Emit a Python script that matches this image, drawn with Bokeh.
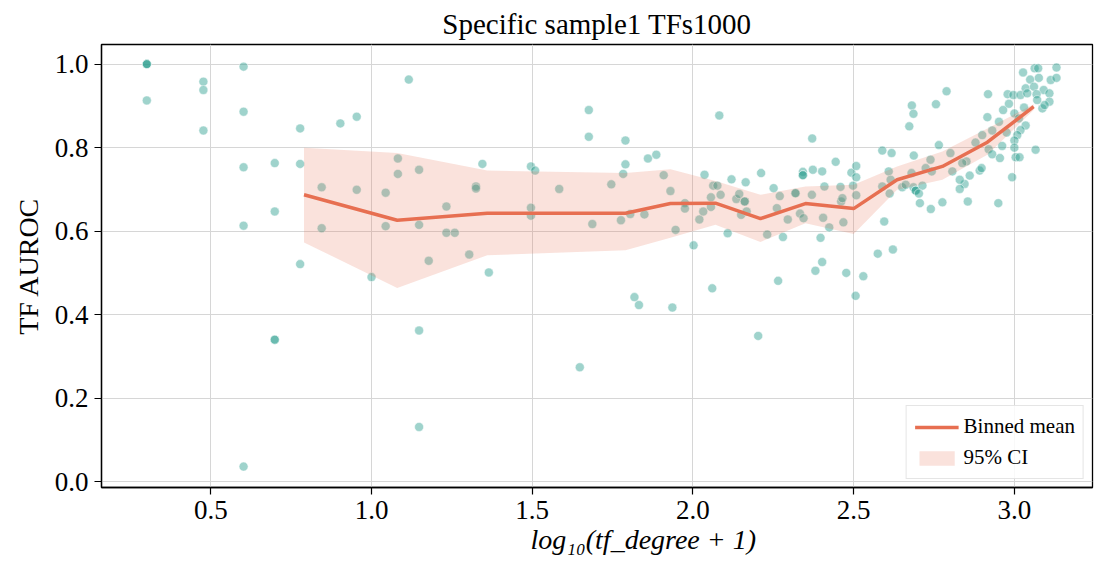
from bokeh.plotting import figure
from bokeh.models import Range1d, FixedTicker, PrintfTickFormatter, Legend, LegendItem, ColumnDataSource, Title
from bokeh.embed import file_html
from bokeh.resources import INLINE

# ---- data ----
pts_x = [0.301, 0.301, 0.301, 0.301, 0.477, 0.477, 0.477, 0.602, 0.602, 0.602, 0.602, 0.602,
         0.699, 0.699, 0.699, 0.699, 0.778, 0.778, 0.778, 0.845, 0.845, 0.903, 0.954, 0.954, 1.0,
         1.116, 1.082, 1.082, 1.044, 1.044, 1.148, 1.148, 1.178, 1.233, 1.233, 1.259, 1.304,
         1.325, 1.325, 1.345, 1.365, 1.496, 1.509, 1.496, 1.496, 1.584, 1.676, 1.676, 1.687,
         1.746, 1.776, 1.783, 1.790, 1.790, 1.805, 1.849, 1.860,
         1.148, 1.148, 1.648, 1.818, 1.832,
         1.886, 1.909, 1.930, 1.946, 1.975, 1.975, 2.002, 2.020, 2.032, 2.036, 2.056, 2.056,
         2.063, 2.076, 2.082, 2.086, 2.108, 2.120, 2.135, 2.144, 2.150, 2.161, 2.161, 2.164,
         2.167, 2.212, 2.231, 2.251, 2.261, 2.270, 2.280, 2.295, 2.319, 2.319, 2.333, 2.342,
         2.342, 2.342, 2.344, 2.370, 2.371, 2.373, 2.397, 2.402, 2.402, 2.405, 2.409, 2.424,
         2.444, 2.459, 2.461, 2.465, 2.468, 2.493, 2.498, 2.508, 2.508, 2.508,
         1.936, 2.060, 2.203, 2.265, 2.381, 2.477, 2.506, 2.530,
         3.131, 3.063, 3.074, 3.027, 3.049, 3.076, 3.113, 3.131, 3.035, 3.061, 3.091, 3.109,
         2.979, 2.997, 3.019, 3.040, 3.069, 2.918, 3.109, 3.087, 3.094, 3.071, 2.789, 2.681,
         2.686, 2.756, 2.673, 2.983, 2.965, 3.030, 3.000, 2.916, 2.952, 2.931, 3.014, 3.035,
         3.019, 3.009, 2.976, 2.900, 2.879, 3.000, 2.962, 3.000, 3.066, 2.920, 2.931, 2.955,
         3.004, 3.016, 2.993, 2.950, 2.855, 2.892, 2.898, 2.861, 2.845, 2.830, 2.830, 2.851,
         2.838, 2.807, 2.801, 2.765, 2.687, 2.618, 2.589, 2.739, 2.724, 2.743, 2.680, 2.609,
         2.615, 2.589, 2.612, 2.651, 2.662, 2.686, 2.693, 2.693, 2.714, 2.703, 2.706, 2.740,
         2.776, 2.595, 2.575, 2.622]
pts_y = [1.0, 1.0, 1.0, 0.913, 0.958, 0.938, 0.841, 0.994, 0.886, 0.753, 0.613, 0.036,
         0.763, 0.647, 0.340, 0.340, 0.846, 0.761, 0.521, 0.705, 0.607, 0.858, 0.874, 0.699, 0.490,
         0.963, 0.774, 0.737, 0.692, 0.612, 0.747, 0.615, 0.529, 0.659, 0.596, 0.596, 0.544,
         0.707, 0.702, 0.761, 0.501, 0.755, 0.745, 0.656, 0.637, 0.701, 0.890, 0.826, 0.617,
         0.712, 0.626, 0.737, 0.817, 0.760, 0.641, 0.640, 0.774,
         0.362, 0.131, 0.274, 0.442, 0.423,
         0.783, 0.734, 0.696, 0.603, 0.667, 0.654, 0.566, 0.628, 0.647, 0.735, 0.681, 0.658,
         0.709, 0.709, 0.877, 0.687, 0.595, 0.724, 0.677, 0.689, 0.639, 0.671, 0.671, 0.717,
         0.647, 0.739, 0.592, 0.703, 0.655, 0.684, 0.586, 0.628, 0.691, 0.691, 0.642, 0.742,
         0.734, 0.734, 0.631, 0.687, 0.822, 0.747, 0.584, 0.743, 0.526, 0.632, 0.707, 0.609,
         0.766, 0.706, 0.671, 0.679, 0.621, 0.740, 0.709, 0.756, 0.729, 0.686,
         0.417, 0.463, 0.349, 0.481, 0.505, 0.500, 0.445, 0.492,
         0.992, 0.990, 0.990, 0.980, 0.963, 0.967, 0.962, 0.967, 0.942, 0.946, 0.938, 0.930,
         0.928, 0.926, 0.926, 0.930, 0.928, 0.928, 0.910, 0.894, 0.902, 0.914, 0.935, 0.901,
         0.881, 0.904, 0.851, 0.905, 0.890, 0.896, 0.882, 0.873, 0.862, 0.841, 0.870, 0.853,
         0.842, 0.830, 0.836, 0.830, 0.812, 0.817, 0.804, 0.800, 0.795, 0.796, 0.784, 0.775,
         0.777, 0.777, 0.729, 0.667, 0.671, 0.745, 0.751, 0.733, 0.713, 0.723, 0.701, 0.767,
         0.763, 0.743, 0.787, 0.806, 0.781, 0.787, 0.793, 0.771, 0.751, 0.743, 0.739, 0.743,
         0.723, 0.707, 0.690, 0.705, 0.711, 0.705, 0.697, 0.697, 0.709, 0.690, 0.667, 0.653,
         0.669, 0.623, 0.546, 0.556]

bin_x = [0.79, 1.08, 1.36, 1.79, 1.93, 2.07, 2.21, 2.35, 2.50, 2.635, 2.776, 2.916, 3.06]
bin_mean = [0.687, 0.626, 0.643, 0.643, 0.666, 0.667, 0.630, 0.666, 0.654, 0.723, 0.755, 0.813, 0.898]
ci_upper = [0.800, 0.787, 0.745, 0.739, 0.748, 0.720, 0.687, 0.707, 0.711, 0.755, 0.791, 0.846, 0.904]
ci_lower = [0.573, 0.464, 0.542, 0.554, 0.584, 0.615, 0.574, 0.619, 0.593, 0.699, 0.723, 0.783, 0.890]

x_ticks = [0.5, 1.0, 1.5, 2.0, 2.5, 3.0]
y_ticks = [0.0, 0.2, 0.4, 0.6, 0.8, 1.0]
x_label = "log\u2081\u2080(tf_degree + 1)"
y_label = "TF AUROC"

FONT = "Liberation Serif"

p = figure(width=1094, height=563, output_backend="svg", toolbar_location=None,
           x_range=Range1d(0.16, 3.243), y_range=Range1d(-0.014, 1.047),
           title="Specific sample1 TFs1000")
p.min_border_left = 101
p.min_border_right = 2
p.min_border_top = 42
p.min_border_bottom = 76

p.title.text_font = FONT
p.title.text_font_size = "29px"
p.title.text_font_style = "normal"
p.title.align = "center"
p.title.text_color = "black"

p.outline_line_color = "black"
p.outline_line_width = 1.3
p.background_fill_color = "white"
p.border_fill_color = "white"

for ax in (p.xaxis[0], p.yaxis[0]):
    ax.axis_line_color = "black"
    ax.axis_line_width = 1.3
    ax.major_tick_line_color = "black"
    ax.major_tick_line_width = 1.2
    ax.major_tick_out = 7
    ax.major_tick_in = 0
    ax.minor_tick_line_color = None
    ax.major_label_text_font = FONT
    ax.major_label_text_font_size = "27px"
    ax.major_label_text_color = "black"
    ax.axis_label_text_font = FONT
    ax.axis_label_text_font_size = "28px"
    ax.axis_label_text_color = "black"
    ax.formatter = PrintfTickFormatter(format="%.1f")

p.xaxis[0].ticker = FixedTicker(ticks=x_ticks)
p.yaxis[0].ticker = FixedTicker(ticks=y_ticks)
p.yaxis[0].axis_label = y_label
p.yaxis[0].axis_label_text_font_style = "normal"
p.xaxis[0].major_label_standoff = 6
p.yaxis[0].major_label_standoff = 6
p.yaxis[0].axis_label_standoff = 8

# x-axis label as a below-title so it can sit slightly right of centre like the reference
p.add_layout(Title(text=x_label, text_font=FONT, text_font_size="28px",
                   text_font_style="italic", align="left", offset=429,
                   text_color="black", standoff=0), "below")

p.xgrid.grid_line_color = "#d6d6d6"
p.ygrid.grid_line_color = "#d6d6d6"
p.xgrid.grid_line_width = 1
p.ygrid.grid_line_width = 1

src = ColumnDataSource(dict(x=pts_x, y=pts_y))
p.scatter("x", "y", source=src, size=9, fill_color="#2a9d8f", fill_alpha=0.45,
          line_color="white", line_width=0.6, line_alpha=0.8)

band = p.varea(x=bin_x, y1=ci_lower, y2=ci_upper, fill_color="#e76f51", fill_alpha=0.2)
line = p.line(bin_x, bin_mean, line_color="#e76f51", line_width=3.5)

legend = Legend(items=[LegendItem(label="Binned mean", renderers=[line]),
                       LegendItem(label="95% CI", renderers=[band])],
                location="bottom_right")
legend.label_text_font = FONT
legend.label_text_font_size = "21px"
legend.label_text_color = "black"
legend.glyph_width = 44
legend.glyph_height = 18
legend.label_height = 22
legend.spacing = 6
legend.padding = 8
legend.margin = 8
legend.border_line_color = "#cccccc"
legend.border_line_width = 1
legend.background_fill_alpha = 0.85
p.add_layout(legend)

open("out.html", "w").write(file_html(p, INLINE))
